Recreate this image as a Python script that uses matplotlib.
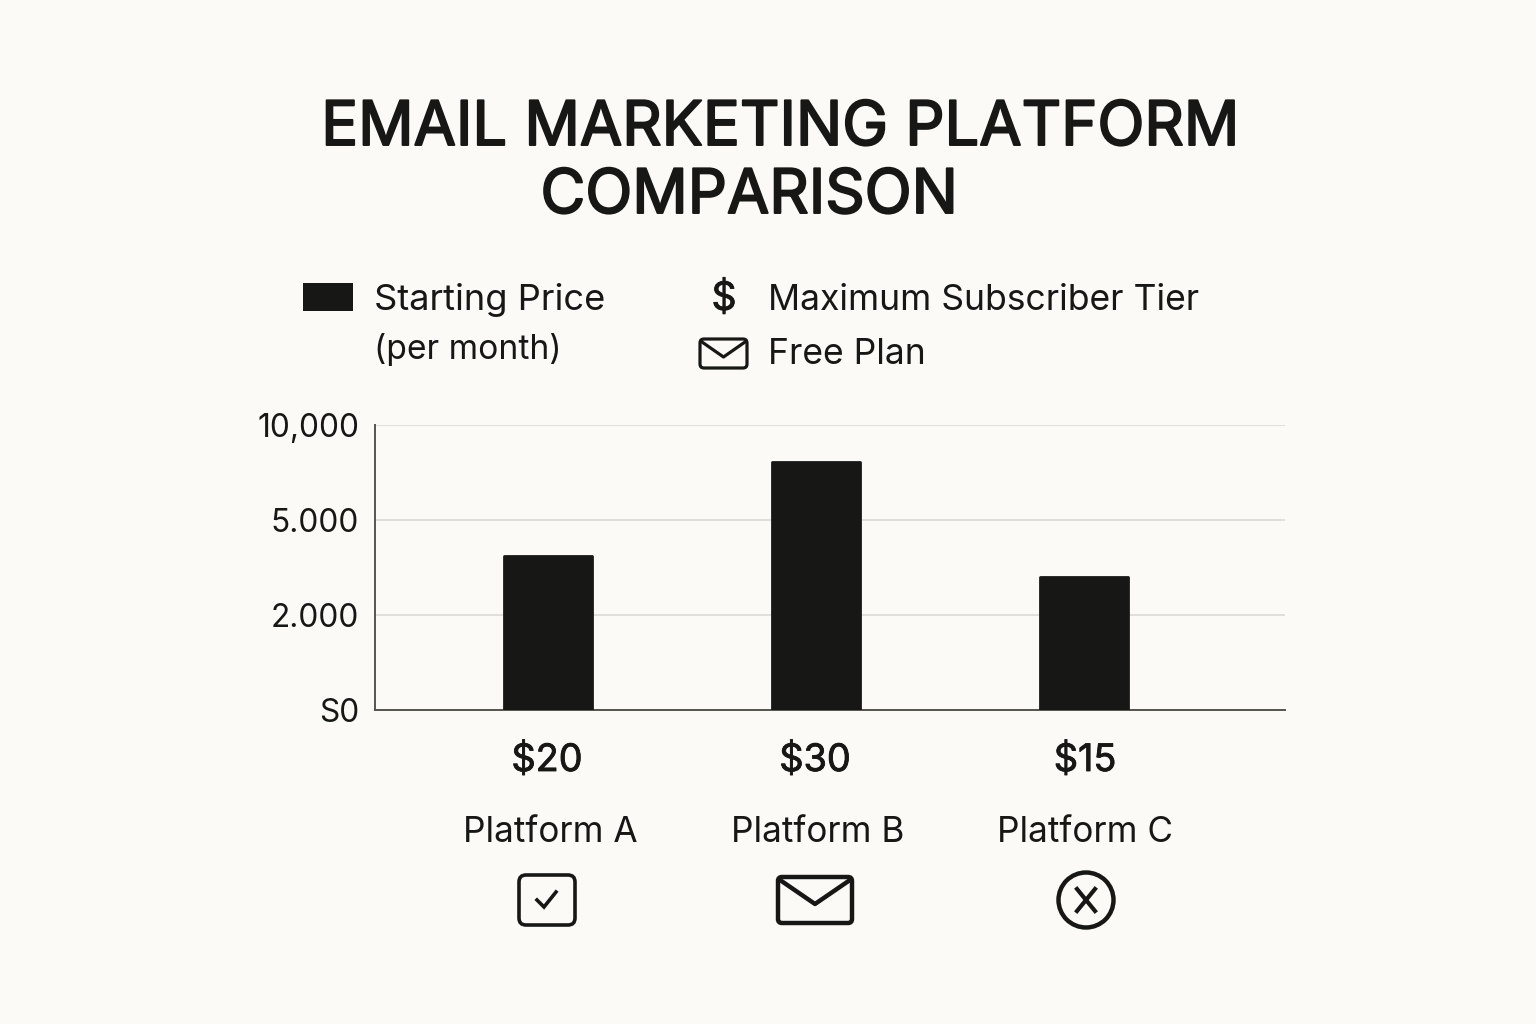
import numpy as np
import matplotlib
matplotlib.use("Agg")
import matplotlib.pyplot as plt
import matplotlib.patheffects as pe
from matplotlib.patches import FancyBboxPatch, Circle, Rectangle
from matplotlib.lines import Line2D

plt.rcParams['font.family'] = ['Inter', 'Liberation Sans', 'DejaVu Sans']

title_lines = ["EMAIL MARKETING PLATFORM", "COMPARISON"]
platforms = ["Platform A", "Platform B", "Platform C"]
prices = ["$20", "$30", "$15"]
max_subscribers = [3860, 8060, 3200]
tick_values = [0, 2000, 5000, 10000]
tick_labels = ["S0", "2.000", "5.000", "10,000"]
legend_left = ["Starting Price", "(per month)"]
legend_right = ["Maximum Subscriber Tier", "Free Plan"]

BG = "#FBFAF7"
INK = "#171715"
W, H = 1536, 1024

fig = plt.figure(figsize=(W / 100, H / 100), dpi=100, facecolor=BG)
ax = fig.add_axes([375 / W, 1 - 710 / H, 910 / W, 285 / H], facecolor=BG)

idx = np.arange(len(tick_values), dtype=float)
ax.set_yscale('function', functions=(
    lambda v: np.interp(v, tick_values, idx),
    lambda p: np.interp(p, idx, tick_values)))
ax.set_ylim(0, 10000)
ax.set_xlim(-0.6455, 2.75)

x = np.arange(len(platforms))
ax.bar(x, max_subscribers, width=0.325, color=INK, edgecolor=INK, linewidth=2,
       joinstyle='round', zorder=3)

ax.set_yticks(tick_values)
ax.set_yticklabels(tick_labels, fontsize=22.8, color=INK)
ax.yaxis.set_minor_locator(matplotlib.ticker.NullLocator())
ax.tick_params(axis='y', length=0, pad=11.5)
ax.set_xticks([])
ax.grid(axis='y', color="#DEDDD8", linewidth=1.3, zorder=0)
for s in ('top', 'right'):
    ax.spines[s].set_visible(False)
for s in ('left', 'bottom'):
    ax.spines[s].set_color("#55554F")
    ax.spines[s].set_linewidth(1.4)

# overlay in pixel coordinates for the title, legend and icons
ov = fig.add_axes([0, 0, 1, 1], facecolor='none')
ov.set_xlim(0, W)
ov.set_ylim(H, 0)
ov.axis('off')


def txt(px, py, s, size, ha='left', bold=0.0):
    t = ov.text(px, py, s, fontsize=size, ha=ha, va='center', color=INK)
    if bold:
        t.set_path_effects([pe.withStroke(linewidth=bold, foreground=INK)])


txt(780, 129, title_lines[0], 44.2, 'center', 1.4)
txt(749, 197, title_lines[1], 44.2, 'center', 1.4)

ov.add_patch(Rectangle((303, 283), 50, 28, fc=INK, ec='none'))
txt(374, 300, legend_left[0], 26.1)
txt(374, 349, legend_left[1], 24.2)
txt(724, 299, "$", 28, 'center', 0.6)
txt(768, 300, legend_right[0], 25.6)
txt(768, 354, legend_right[1], 25.6)


def envelope(px, py, w, h, lw, drop):
    ov.add_patch(FancyBboxPatch((px + 3, py + 3), w - 6, h - 6,
                                boxstyle="round,pad=3,rounding_size=4",
                                fc='none', ec=INK, lw=lw))
    ov.add_line(Line2D([px + 2, px + w / 2, px + w - 2],
                       [py + 3, py + drop, py + 3], color=INK, lw=lw,
                       solid_joinstyle='round'))


envelope(700, 339, 47, 29, 2.3, 18)

centers = [547, 815, 1085]
name_centers = [550, 818, 1085]
for c, nc, price, name in zip(centers, name_centers, prices, platforms):
    txt(c, 761, price, 27.2, 'center', 0.6)
    txt(nc, 832, name, 25.3, 'center')

# Platform A: check box
ov.add_patch(FancyBboxPatch((522, 878), 50, 44, boxstyle="round,pad=3,rounding_size=7",
                            fc='none', ec=INK, lw=2.6))
ov.add_line(Line2D([537, 544, 556], [900, 907, 892], color=INK, lw=2.6,
                   solid_joinstyle='miter'))
# Platform B: envelope
envelope(778, 877, 74, 46, 3.2, 27)
# Platform C: circled cross
ov.add_patch(Circle((1086, 900), 27.5, fc='none', ec=INK, lw=3.2))
ov.add_line(Line2D([1077, 1095], [889, 911], color=INK, lw=3.0))
ov.add_line(Line2D([1095, 1077], [889, 911], color=INK, lw=3.0))

fig.savefig("out.png", dpi=100, facecolor=BG)
